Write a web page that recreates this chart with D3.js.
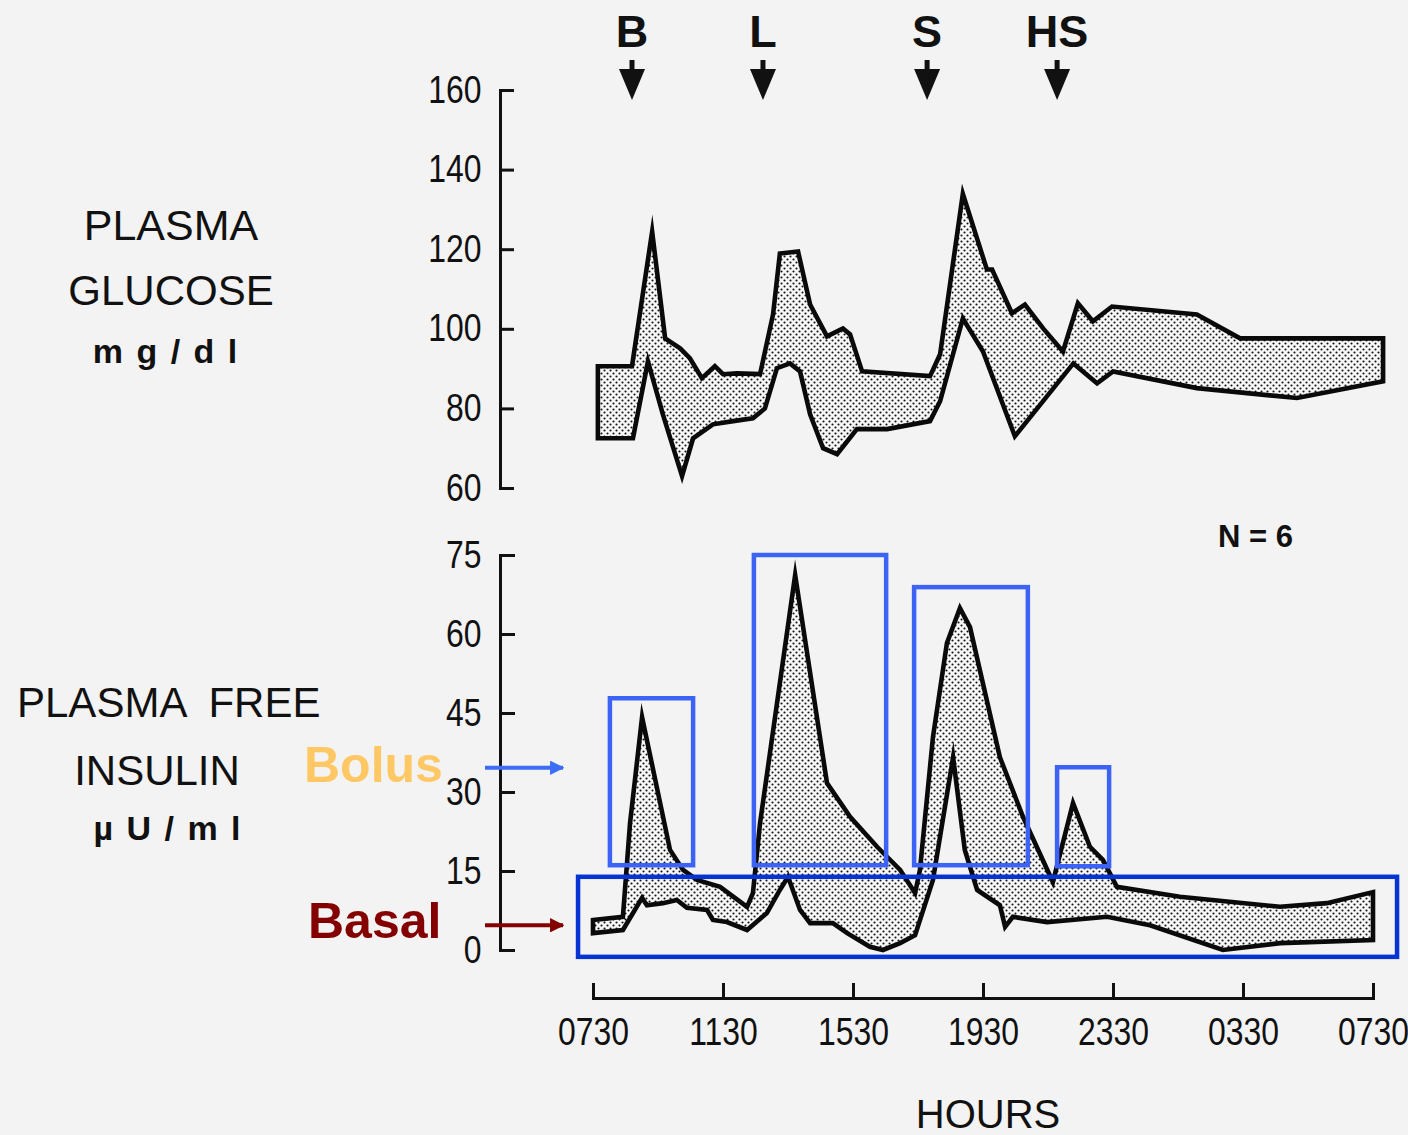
<!DOCTYPE html>
<html>
<head>
<meta charset="utf-8">
<script src="https://cdn.jsdelivr.net/npm/d3@7"></script>
<style>
  body { margin: 0; background: #f3f3f3; }
  .lbl { font-family: "Liberation Sans", Arial, sans-serif; fill: #111; }
  .tick text { font-family: "Liberation Sans", Arial, sans-serif; font-size: 38px; fill: #111; }
</style>
</head>
<body>
<div id="chart"></div>
<script>
// clock hours, 07:30 one day to 07:30 the next (values > 24 are after midnight)
var hourTicks = [7.5, 11.5, 15.5, 19.5, 23.5, 27.5, 31.5];
var hourLabels = ["0730", "1130", "1530", "1930", "2330", "0330", "0730"];
var glucoseTicks = [60, 80, 100, 120, 140, 160];
var insulinTicks = [0, 15, 30, 45, 60, 75];

// meals: breakfast, lunch, supper, bedtime snack
var mealLabels = ["B", "L", "S", "HS"];
var mealTimes = [8.7, 12.73, 17.78, 21.78];

// plasma glucose band (mg/dl), upper and lower edge
var glucoseHighTime = [7.65, 8.7, 9.32, 9.72, 10.18, 10.48, 10.85, 11.25, 11.5, 11.93, 12.64, 13.04, 13.25, 13.81, 14.18, 14.7, 15.19, 15.41, 15.78, 17.87, 18.18, 18.88, 19.62, 19.78, 20.39, 20.79, 21.35, 21.96, 22.42, 22.88, 23.47, 26.08, 27.41, 29.16, 31.81];
var glucoseHigh = [90.6, 90.6, 124.4, 97.6, 95.1, 92.6, 87.6, 90.6, 88.6, 88.8, 88.6, 103.6, 118.9, 119.4, 106.1, 98.1, 100.1, 98.6, 89.3, 88.1, 93.6, 133.9, 114.9, 114.9, 103.9, 106.1, 100.1, 94.3, 106.4, 101.9, 105.6, 103.6, 97.6, 97.6, 97.6];
var glucoseLowTime = [7.65, 8.73, 9.19, 9.65, 10.24, 10.58, 11.19, 11.81, 12.42, 12.79, 13.16, 13.56, 13.87, 14.18, 14.58, 15.01, 15.62, 16.55, 17.87, 18.18, 18.88, 19.5, 20.48, 22.28, 23.01, 23.5, 26.08, 29.16, 31.81];
var glucoseLow = [72.5, 72.5, 91.8, 78.5, 63.0, 72.5, 76.0, 76.8, 77.5, 80.0, 90.1, 91.3, 89.3, 78.5, 70.0, 68.5, 74.8, 74.8, 76.8, 81.8, 102.6, 94.3, 73.0, 91.3, 86.3, 89.3, 85.1, 82.6, 86.8];

// plasma free insulin band (uU/ml)
var insulinHighTime = [7.5, 8.42, 8.64, 9.01, 9.87, 10.27, 10.7, 11.41, 12.24, 12.42, 12.64, 13.72, 14.7, 15.41, 16.24, 16.95, 17.41, 17.56, 17.96, 18.39, 18.79, 19.1, 20.02, 20.73, 21.65, 22.27, 22.79, 23.19, 23.62, 25.56, 28.64, 30.08, 31.5];
var insulinHigh = [5.7, 6.3, 24.1, 44.2, 19.0, 15.2, 13.3, 12.0, 8.2, 10.8, 24.1, 71.2, 31.7, 25.3, 19.6, 15.2, 10.8, 15.2, 40.4, 58.3, 64.9, 61.3, 36.6, 25.3, 12.9, 27.9, 19.6, 17.1, 12.0, 10.1, 8.2, 8.9, 11.0];
var insulinLowTime = [7.5, 8.42, 9.01, 9.16, 9.65, 10.08, 10.39, 11.01, 11.19, 11.62, 12.24, 12.85, 13.25, 13.5, 13.87, 14.18, 14.88, 15.32, 16.02, 16.42, 16.95, 17.41, 17.96, 18.58, 18.94, 19.32, 20.02, 20.18, 20.42, 21.47, 23.32, 24.64, 26.88, 28.64, 31.5];
var insulinLow = [3.2, 3.8, 9.9, 8.5, 8.9, 9.5, 8.0, 7.6, 5.7, 5.3, 3.8, 7.0, 11.4, 13.9, 7.6, 5.1, 5.1, 3.2, 0.6, 0.0, 1.3, 2.8, 13.3, 36.6, 19.0, 11.4, 8.5, 4.4, 6.3, 5.3, 6.3, 4.7, 0.0, 1.3, 1.9];

// highlight boxes drawn over the insulin panel
var bolusFrom = [8.02, 12.45, 17.38, 21.78];
var bolusTo = [10.58, 16.52, 20.88, 23.38];
var bolusTop = [47.8, 75, 68.9, 34.7];
var bolusBottom = [16.1, 16.1, 16.1, 15.9];
var basalFrom = 7.04, basalTo = 32.24, basalTop = 13.9, basalBottom = -1.3;
var bolusArrowAt = 34.6, basalArrowAt = 4.7;

var w = 1408,
  h = 1135,
  axisX = 500;

var x = d3.scaleLinear().domain([7.5, 31.5]).range([593, 1373]);
var yG = d3.scaleLinear().domain([60, 160]).range([488, 90]);
var yI = d3.scaleLinear().domain([0, 75]).range([950, 555]);

var svg = d3.select("#chart").append("svg").attr("width", w).attr("height", h);
svg.append("rect").attr("width", w).attr("height", h).attr("fill", "#f3f3f3");

var defs = svg.append("defs");
var pat = defs.append("pattern")
  .attr("id", "dots")
  .attr("patternUnits", "userSpaceOnUse")
  .attr("width", 6)
  .attr("height", 6);
pat.append("rect").attr("width", 6).attr("height", 6).attr("fill", "#f7f7f7");
pat.append("circle").attr("cx", 1.5).attr("cy", 1.5).attr("r", 1.05).attr("fill", "#111");
pat.append("circle").attr("cx", 4.5).attr("cy", 4.5).attr("r", 1.05).attr("fill", "#111");

["mk-blue", "mk-red"].forEach(function (id, i) {
  defs.append("marker")
    .attr("id", id)
    .attr("viewBox", "0 0 10 10")
    .attr("refX", 9).attr("refY", 5)
    .attr("markerWidth", 3.6).attr("markerHeight", 3.6)
    .attr("orient", "auto")
    .append("path")
    .attr("d", "M0,0L10,5L0,10Z")
    .attr("fill", i ? "#840000" : "#3d6cf5");
});

function band(hiT, hi, loT, lo, y) {
  var pts = hi.map(function (v, i) { return [x(hiT[i]), y(v)]; });
  for (var i = lo.length - 1; i >= 0; i--) pts.push([x(loT[i]), y(lo[i])]);
  return d3.line()(pts) + "Z";
}

function drawBand(d) {
  svg.append("path")
    .attr("d", d)
    .attr("fill", "url(#dots)")
    .attr("stroke", "#0a0a0a")
    .attr("stroke-width", 4.6)
    .attr("stroke-linejoin", "miter")
    .attr("stroke-miterlimit", 12);
}

drawBand(band(glucoseHighTime, glucoseHigh, glucoseLowTime, glucoseLow, yG));
drawBand(band(insulinHighTime, insulinHigh, insulinLowTime, insulinLow, yI));

// axes; tick digits are squeezed to look like the narrow face of the original
function styleAxis(g) {
  g.selectAll("path, line").attr("stroke", "#111").attr("stroke-width", 3);
  g.select(".domain").attr("fill", "none");
  g.selectAll(".tick text").attr("transform", "scale(0.84,1)");
  g.attr("font-family", null).attr("font-size", null);
}

svg.append("g")
  .attr("transform", "translate(" + axisX + ",0)")
  .call(d3.axisLeft(yG).tickValues(glucoseTicks).tickSize(-14).tickPadding(22))
  .call(styleAxis);

svg.append("g")
  .attr("transform", "translate(" + axisX + ",0)")
  .call(d3.axisLeft(yI).tickValues(insulinTicks).tickSize(-15).tickPadding(22))
  .call(styleAxis);

svg.append("g")
  .attr("transform", "translate(0,998)")
  .call(d3.axisBottom(x).tickValues(hourTicks)
    .tickFormat(function (d, i) { return hourLabels[i]; })
    .tickSize(-15).tickPadding(20))
  .call(styleAxis);

// meal markers
var meals = svg.append("g").selectAll("g").data(mealTimes).enter().append("g")
  .attr("transform", function (d) { return "translate(" + x(d) + ",0)"; });
meals.append("text")
  .attr("class", "lbl")
  .attr("text-anchor", "middle")
  .attr("y", 47)
  .attr("font-size", 45)
  .attr("font-weight", "bold")
  .text(function (d, i) { return mealLabels[i]; });
meals.append("line")
  .attr("y1", 60).attr("y2", 76)
  .attr("stroke", "#111").attr("stroke-width", 5);
meals.append("path")
  .attr("d", "M-13,69L13,69L0,100Z")
  .attr("fill", "#111");

// left titles
function label(txt, xx, yy, size, opts) {
  opts = opts || {};
  return svg.append("text")
    .attr("class", "lbl")
    .attr("x", xx).attr("y", yy)
    .attr("font-size", size)
    .attr("text-anchor", opts.anchor || "middle")
    .attr("font-weight", opts.bold ? "bold" : null)
    .attr("letter-spacing", opts.spacing || null)
    .attr("xml:space", "preserve")
    .text(txt);
}

label("PLASMA", 171, 240, 43);
label("GLUCOSE", 171, 305, 42);
label("m g / d l", 166, 363, 34, { bold: true, spacing: 2 });
label("PLASMA  FREE", 17, 717, 42, { anchor: "start" });
label("INSULIN", 157, 785, 42);
label("µ U / m l", 168, 840, 34, { bold: true, spacing: 2 });
label("N = 6", 1218, 547, 31, { anchor: "start", bold: true });
label("HOURS", 988, 1128, 40);

// bolus / basal highlights
var boxes = svg.append("g");
bolusFrom.forEach(function (d, i) {
  boxes.append("rect")
    .attr("x", x(d))
    .attr("y", yI(bolusTop[i]))
    .attr("width", x(bolusTo[i]) - x(d))
    .attr("height", yI(bolusBottom[i]) - yI(bolusTop[i]))
    .attr("fill", "none")
    .attr("stroke", "#3d63f6")
    .attr("stroke-width", 4.5);
});
boxes.append("rect")
  .attr("x", x(basalFrom))
  .attr("y", yI(basalTop))
  .attr("width", x(basalTo) - x(basalFrom))
  .attr("height", yI(basalBottom) - yI(basalTop))
  .attr("fill", "none")
  .attr("stroke", "#0634d2")
  .attr("stroke-width", 4.5);

svg.append("line")
  .attr("x1", axisX - 15).attr("x2", axisX + 63)
  .attr("y1", yI(bolusArrowAt)).attr("y2", yI(bolusArrowAt))
  .attr("stroke", "#3d6cf5").attr("stroke-width", 4)
  .attr("marker-end", "url(#mk-blue)");
svg.append("line")
  .attr("x1", axisX - 15).attr("x2", axisX + 63)
  .attr("y1", yI(basalArrowAt)).attr("y2", yI(basalArrowAt))
  .attr("stroke", "#840000").attr("stroke-width", 4)
  .attr("marker-end", "url(#mk-red)");

label("Bolus", 304, 782, 50, { anchor: "start", bold: true }).style("fill", "#ffc865");
label("Basal", 308, 938, 50, { anchor: "start", bold: true }).style("fill", "#840000");
</script>
</body>
</html>
